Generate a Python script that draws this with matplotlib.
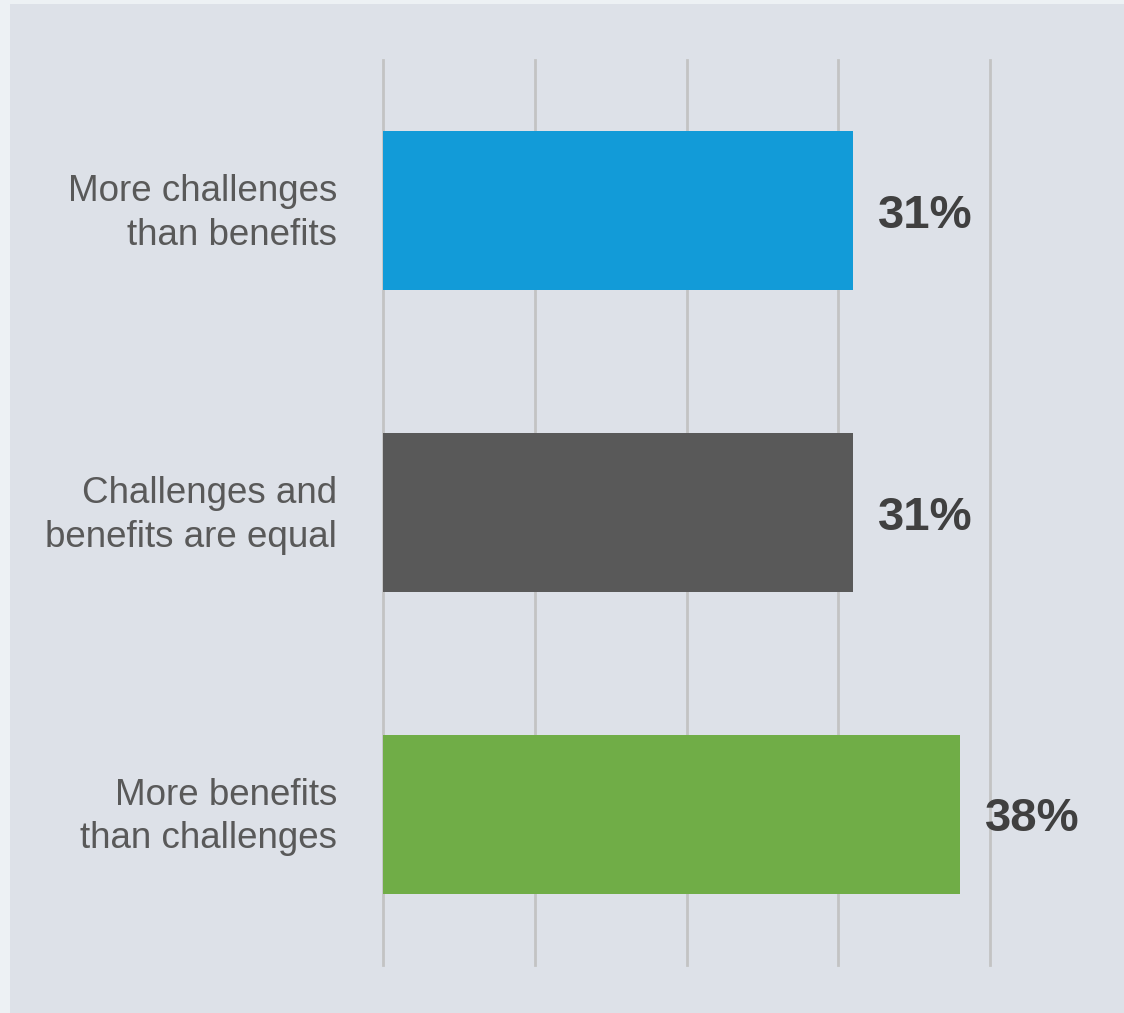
import matplotlib.pyplot as plt
import matplotlib.transforms as mtransforms
from matplotlib.patches import Rectangle

# Survey answers, top to bottom
categories = ['More challenges\nthan benefits',
              'Challenges and\nbenefits are equal',
              'More benefits\nthan challenges']
values = [31, 31, 38]
bar_colors = ['#129bd8', '#595959', '#70ad47']

plt.rcParams['font.family'] = ['Liberation Sans', 'DejaVu Sans']

fig = plt.figure(figsize=(11.24, 10.13), dpi=100)
fig.patch.set_facecolor('#edf1f4')
# inner panel, kept behind the axes
fig.patches.append(Rectangle((10 / 1124, 0), 1 - 10 / 1124, 1 - 4 / 1013,
                             transform=fig.transFigure, facecolor='#dde1e8',
                             edgecolor='none', zorder=-10))

ax = fig.add_axes([383 / 1124, 48 / 1013, (990 - 383) / 1124, (965 - 60) / 1013])
ax.set_facecolor('none')

pos = list(range(len(categories)))
ax.barh(pos, values, height=0.527, color=bar_colors, zorder=3)
ax.set_xlim(0, 40)
ax.set_ylim(2.5, -0.5)

ax.set_xticks([0, 10, 20, 30, 40])
ax.xaxis.grid(True, color='#c3c3c3', linewidth=2, zorder=0)
for gl in ax.get_xgridlines():
    gl.set_clip_on(False)
ax.tick_params(axis='x', length=0, labelbottom=False)
ax.tick_params(axis='y', length=0, pad=33)
ax.set_yticks(pos)
ax.set_yticklabels(categories, fontsize=26.5, color='#595959', linespacing=1.32)
# nudge category labels up a little
nudge = mtransforms.ScaledTranslation(0, 4 / 72, fig.dpi_scale_trans)
for lbl in ax.get_yticklabels():
    lbl.set_transform(lbl.get_transform() + nudge)
for s in ax.spines.values():
    s.set_visible(False)

for p, v in zip(pos, values):
    ax.annotate(f'{v}%', (v, p), xytext=(18, 0), textcoords='offset points',
                ha='left', va='center_baseline', fontsize=34, fontweight='bold',
                color='#404040', annotation_clip=False)

fig.savefig('out.png', dpi=100)
